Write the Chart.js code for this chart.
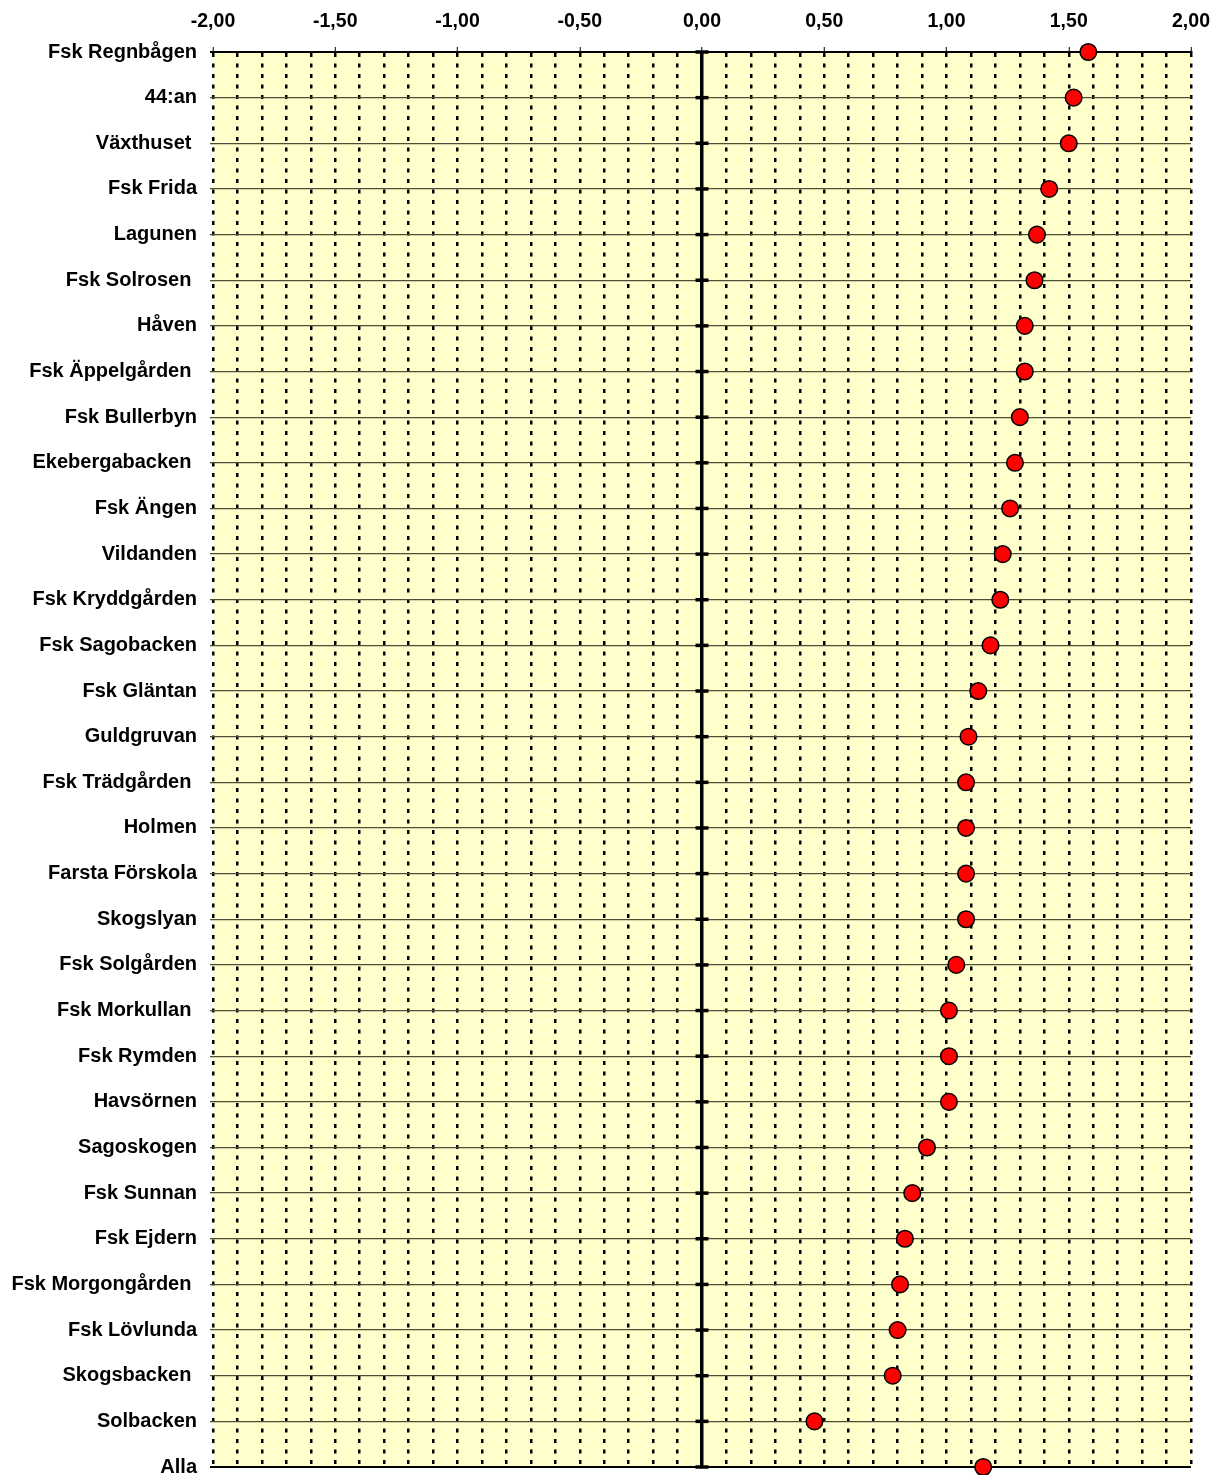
<!DOCTYPE html>
<html><head><meta charset="utf-8">
<script src="https://cdn.jsdelivr.net/npm/chart.js@4/dist/chart.umd.min.js"></script>
<style>html,body{margin:0;padding:0;background:#fff}#wrap{width:1219px;height:1475px;position:relative}</style>
</head><body><div id="wrap"><canvas id="c"></canvas></div>
<script>
const categories = [
  "Fsk Regnbågen", "44:an", "Växthuset ", "Fsk Frida", "Lagunen", "Fsk Solrosen ",
  "Håven", "Fsk Äppelgården ", "Fsk Bullerbyn", "Ekebergabacken ", "Fsk Ängen",
  "Vildanden", "Fsk Kryddgården", "Fsk Sagobacken", "Fsk Gläntan", "Guldgruvan",
  "Fsk Trädgården ", "Holmen", "Farsta Förskola", "Skogslyan", "Fsk Solgården",
  "Fsk Morkullan ", "Fsk Rymden", "Havsörnen", "Sagoskogen", "Fsk Sunnan",
  "Fsk Ejdern", "Fsk Morgongården ", "Fsk Lövlunda", "Skogsbacken ", "Solbacken", "Alla"
];
const values = [
  1.58, 1.52, 1.50, 1.42, 1.37, 1.36,
  1.32, 1.32, 1.30, 1.28, 1.26,
  1.23, 1.22, 1.18, 1.13, 1.09,
  1.08, 1.08, 1.08, 1.08, 1.04,
  1.01, 1.01, 1.01, 0.92, 0.86,
  0.83, 0.81, 0.80, 0.78, 0.46, 1.15
];
const xMin = -2, xMax = 2, xStep = 0.1, xLabelStep = 0.5;

const FONT = "'Liberation Sans', Arial, sans-serif";
function isMajor(v) { const r = v / xLabelStep; return Math.abs(r - Math.round(r)) < 1e-6; }
function isZero(v) { return Math.abs(v) < 1e-6; }
function fmt(v) { if (isZero(v)) v = 0; return v.toFixed(2).replace('.', ','); }

const bgPlugin = {
  id: 'bg',
  beforeDraw(chart) {
    const a = chart.chartArea, ctx = chart.ctx;
    ctx.save(); ctx.fillStyle = '#FFFFCC';
    ctx.fillRect(a.left, a.top, a.right - a.left, a.bottom - a.top);
    ctx.restore();
  }
};
const zeroTicks = {
  id: 'zeroTicks',
  afterDatasetsDraw(chart) {
    const xs = chart.scales.x, ys = chart.scales.y, ctx = chart.ctx;
    const x0 = xs.getPixelForValue(0);
    ctx.save(); ctx.strokeStyle = '#000'; ctx.lineWidth = 3.5;
    categories.forEach((c, i) => {
      const y = ys.getPixelForValue(i);
      ctx.beginPath(); ctx.moveTo(x0 - 6.5, y); ctx.lineTo(x0 + 6.5, y); ctx.stroke();
    });
    ctx.restore();
  }
};

new Chart(document.getElementById('c'), {
  type: 'line',
  data: {
    labels: categories,
    datasets: [{
      data: values,
      showLine: false,
      clip: false,
      pointRadius: 8.3,
      pointHoverRadius: 8.3,
      pointBackgroundColor: '#FF0000',
      pointBorderColor: '#000000',
      pointBorderWidth: 1.5
    }]
  },
  options: {
    indexAxis: 'y',
    responsive: true,
    maintainAspectRatio: false,
    animation: false,
    devicePixelRatio: 1,
    layout: { autoPadding: false, padding: { left: 0, right: 28, top: -3, bottom: 8 } },
    plugins: { legend: { display: false }, tooltip: { enabled: false } },
    scales: {
      x: {
        type: 'linear',
        position: 'top',
        min: xMin, max: xMax,
        afterFit: s => { s.paddingLeft = 0; s.paddingRight = 0; s.height = 55; },
        ticks: {
          stepSize: xStep,
          autoSkip: false,
          maxRotation: 0,
          padding: 14,
          color: '#000',
          font: { family: FONT, size: 19.5, weight: 'bold' },
          callback: v => isMajor(v) ? fmt(v) : ''
        },
        grid: {
          drawTicks: true,
          tickLength: 5,
          color: ctx => '#000',
          lineWidth: ctx => (ctx.tick && isZero(ctx.tick.value)) ? 3.5 : 2.5,
          tickColor: ctx => (ctx.tick && isMajor(ctx.tick.value)) ? '#000' : 'rgba(0,0,0,0)',
          tickWidth: 1,
          tickBorderDash: []
        },
        border: {
          display: true, color: '#000', width: 2,
          dash: ctx => (ctx.type === 'tick' && ctx.tick && !isZero(ctx.tick.value)) ? [4, 6.5] : []
        }
      },
      y: {
        type: 'category',
        offset: false,
        afterFit: s => { s.width = 213; s.paddingTop = 0; s.paddingBottom = 0; },
        ticks: {
          autoSkip: false,
          padding: 13,
          color: '#000',
          font: { family: FONT, size: 20, weight: 'bold' }
        },
        grid: {
          drawTicks: true,
          tickLength: 3,
          color: ctx => (ctx.index === categories.length - 1 || ctx.index === 0) ? '#000' : '#4d4d38',
          lineWidth: ctx => (ctx.index === categories.length - 1 || ctx.index === 0) ? 2 : 1.3
        },
        border: { display: false }
      }
    }
  },
  plugins: [bgPlugin, zeroTicks]
});
</script>
</body></html>
